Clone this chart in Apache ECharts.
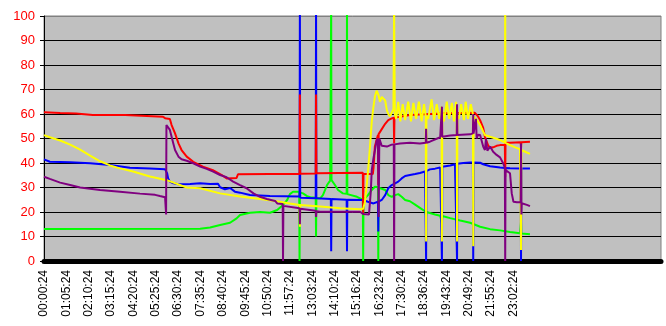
<!DOCTYPE html>
<html>
<head>
<meta charset="utf-8">
<script src="https://cdn.jsdelivr.net/npm/echarts@6/dist/echarts.min.js"></script>
<style>html,body{margin:0;padding:0;background:#fff}#c{width:666px;height:326px}</style>
</head>
<body>
<div id="c"></div>
<script>
// Tick labels (one every 65 samples)
const tickLabels = ['00:00:24','01:05:24','02:10:24','03:15:24','04:20:24','05:25:24','06:30:24','07:35:24','08:40:24','09:45:24','10:50:24','11:57:24','13:03:24','14:10:24','15:16:24','16:23:24','17:30:24','18:36:24','19:43:24','20:49:24','21:55:24','23:02:24'];
const sampleCount = 1794;

// Series values as [sample index, value]
const greenData = [[0,13.1],[454,13.2],[483,13.7],[512,14.7],[541,15.6],[560,17.4],[570,18.8],[599,19.7],[628,20],[657,19.7],[678,20.8],[695,22.9],[707,24.9],[715,27.3],[724,28.3],[742,28.3],[743,0],[744,28],[753,27.6],[765,26.5],[774,26],[790,25.8],[791,10],[792,25.7],[803,25.6],[811,26.9],[823,31],[832,32.8],[834,33],[835,105],[836,33],[846,31],[855,29],[869,27.6],[880,27.4],[881,105],[882,27.3],[910,26.2],[927,25],[928,0],[929,25],[933,24.9],[942,26.9],[953,29],[962,30.3],[971,30.2],[972,0],[973,29.9],[982,29.5],[992,29],[1001,26.9],[1011,26.2],[1021,26.9],[1030,27.3],[1040,26.2],[1050,24.9],[1064,24.4],[1079,23],[1093,21.7],[1108,20.3],[1111,18.5],[1112,20],[1122,19.6],[1137,19],[1152,18.5],[1157,15.5],[1158,18.4],[1181,17.5],[1210,16.5],[1239,15.6],[1268,14],[1297,13],[1326,12.5],[1355,11.8],[1384,11.3],[1387,16],[1388,11.2],[1413,10.9]];

const blueData = [[0,41.5],[17,40.5],[76,40.3],[134,39.9],[192,39.2],[250,38.1],[308,37.8],[352,37.4],[358,35.8],[361,33.7],[366,32.4],[376,31.7],[391,31.3],[425,31.4],[454,31.7],[483,31.4],[506,31.5],[512,30.1],[526,29.3],[541,29.8],[555,28.3],[570,27.9],[599,26.9],[657,26.5],[743,26.3],[744,105],[745,25.8],[790,25.6],[791,105],[792,25.6],[834,25.3],[835,4],[836,25.3],[880,25],[881,4],[882,25],[928,24.9],[942,24.2],[958,23.5],[971,24.2],[972,12],[973,24.2],[982,24.9],[992,26.9],[1001,29.7],[1011,31],[1021,31.7],[1030,32.4],[1040,33.7],[1050,34.7],[1064,35.1],[1079,35.5],[1093,35.9],[1108,36.5],[1110,36.6],[1111,0],[1112,36.7],[1122,37.4],[1137,37.7],[1152,38.2],[1156,38.4],[1157,0],[1158,38.5],[1181,39],[1195,39.5],[1200,39.6],[1201,0],[1202,39.7],[1219,40],[1239,40.2],[1247,40.2],[1248,0],[1249,40.2],[1268,40.1],[1277,39.5],[1297,38.7],[1326,38.2],[1340,38],[1341,37],[1342,38],[1355,37.9],[1386,37.8],[1387,0],[1388,37.8],[1413,37.8]];

const redData = [[0,60.7],[47,60.4],[93,60.2],[142,59.6],[236,59.6],[239,59],[346,58.9],[352,58.3],[366,58],[371,55.5],[381,52.1],[391,48],[400,45.3],[415,42.6],[434,40.5],[462,38.5],[491,37.1],[517,35.1],[531,33.7],[560,33.9],[564,35.4],[657,35.5],[743,35.5],[744,68],[745,35.6],[790,35.7],[791,68],[792,35.8],[927,36],[928,19],[929,35.5],[956,35.5],[958,37.8],[962,46.7],[967,49.4],[971,51.4],[972,31],[973,51.8],[977,52],[992,56],[1001,57.5],[1011,58.2],[1017,58.5],[1018,48],[1019,58.6],[1035,58.9],[1064,59.6],[1166,60.3],[1253,60.5],[1262,59],[1268,57.5],[1277,54.3],[1282,50.7],[1291,47.3],[1297,46.2],[1306,46.4],[1316,47],[1326,47.3],[1340,47.3],[1341,34.4],[1342,48.3],[1355,48.3],[1386,48.5],[1387,46],[1388,48.5],[1413,48.7]];

const yellowData = [[0,51.4],[17,50.5],[47,49.2],[76,47.5],[105,45.5],[134,43],[163,40.7],[192,39],[221,37.8],[259,36.5],[308,34.5],[357,33],[415,30],[454,29.7],[512,27.6],[570,26.3],[628,25.3],[672,24.5],[715,23.5],[743,22.9],[744,14],[745,22.9],[803,22.2],[861,21.5],[919,21.1],[928,21.3],[933,24],[939,32],[943,38],[948,47],[953,57],[958,63],[962,67],[967,69.5],[972,68],[977,65],[982,67],[987,67.5],[992,65.5],[997,61.5],[1001,60],[1006,59],[1011,60.5],[1016,62],[1018,105],[1020,60],[1024,58],[1030,65],[1036,57],[1043,64],[1050,57.5],[1059,65],[1067,57],[1074,64.5],[1082,58],[1090,65],[1098,57],[1105,64],[1110,59],[1111,8],[1112,59],[1117,58],[1127,66],[1134,57.5],[1142,64],[1149,58],[1156,63],[1157,8],[1158,62],[1163,57],[1171,65],[1178,58],[1186,64.5],[1192,57],[1198,65],[1200,60],[1201,8],[1202,59],[1206,58],[1213,64],[1221,57.5],[1226,65],[1233,58],[1241,64],[1247,60],[1248,6],[1249,59],[1259,57.5],[1268,55.5],[1277,52.8],[1282,51.4],[1297,50.7],[1311,50.1],[1326,49.4],[1340,48.3],[1341,105],[1342,48.2],[1355,47.3],[1370,46.4],[1384,45.6],[1386,45.5],[1387,4.5],[1388,45.3],[1399,44.6],[1413,43.7]];

const purpleData = [[0,34.4],[17,33.5],[47,32],[76,31],[105,30],[134,29.5],[163,29],[221,28.3],[279,27.5],[323,27],[337,26.5],[352,26],[354,25.5],[355,19],[356,55.5],[361,55.5],[366,53.5],[371,50.7],[376,48],[381,45.3],[391,42.6],[400,41.5],[415,40.9],[434,39.9],[454,38.5],[473,37.6],[492,36.5],[512,35.1],[531,34.2],[550,32.4],[570,31],[589,29.7],[609,27.6],[628,26.2],[648,25.3],[672,24.5],[678,23.5],[694,23.3],[695,0],[696,22.5],[701,22.2],[743,21.5],[744,15],[745,21.3],[790,20.5],[791,18],[792,20.3],[803,20.1],[919,20.1],[928,19.2],[945,19],[950,28],[953,37],[958,42],[962,45],[967,49],[971,50],[973,18],[975,50],[982,47],[997,46.7],[1011,47.5],[1017,47.6],[1018,0],[1019,47.6],[1035,48],[1064,48.3],[1093,48],[1110,48.3],[1111,54],[1112,48.3],[1122,48.7],[1152,50.5],[1156,50.6],[1157,63],[1158,50.7],[1181,51.2],[1200,51.4],[1201,64],[1202,51.4],[1239,51.7],[1247,52.1],[1248,60],[1249,52],[1253,52],[1256,58],[1258,50],[1262,51.5],[1268,51.4],[1277,46.7],[1282,45.3],[1285,49.8],[1289,45],[1297,46.7],[1306,44.6],[1316,43.3],[1326,42.3],[1335,39.9],[1340,38],[1341,0],[1342,37.1],[1355,35.8],[1360,27.6],[1365,24.2],[1375,24],[1386,24],[1387,48],[1388,19],[1389,23.6],[1393,23.5],[1404,22.9],[1413,22.4]];

const seriesList = [
  {name:'green', color:'#00FF00', data:greenData},
  {name:'blue', color:'#0000FF', data:blueData},
  {name:'red', color:'#FF0000', data:redData},
  {name:'yellow', color:'#FFFF00', data:yellowData},
  {name:'purple', color:'#800080', data:purpleData}
];

const chart = echarts.init(document.getElementById('c'), null, {renderer:'canvas'});
const splitColors = ['#000','#000','#000','#000','#000','#000','#000','#000','#000','#000','#808080'];
chart.setOption({
  animation: false,
  backgroundColor: '#FFFFFF',
  grid: {left:44, right:5, top:16, bottom:65, show:true, backgroundColor:'#C0C0C0', borderColor:'#808080', borderWidth:1},
  xAxis: {
    type:'value', min:0, max:sampleCount, interval:65, offset:3,
    axisLine:{show:true, lineStyle:{color:'#000', width:5}},
    axisTick:{show:false},
    splitLine:{show:false},
    axisLabel:{rotate:90, margin:6, color:'#000', fontFamily:'Liberation Sans, Arial', fontSize:12,
      showMaxLabel:false,
      formatter:function(v){ const i = Math.round(v/65); return tickLabels[i] || ''; }}
  },
  yAxis: {
    type:'value', min:0, max:100, interval:10,
    axisLine:{show:true, lineStyle:{color:'#000', width:1}},
    axisTick:{show:true, length:4, lineStyle:{color:'#000'}},
    splitLine:{show:true, lineStyle:{color:splitColors, width:1}},
    axisLabel:{color:'#FF0000', fontFamily:'Liberation Sans, Arial', fontSize:13, margin:9}
  },
  series: seriesList.map(s => ({
    name:s.name, type:'line', data:s.data, showSymbol:false, symbol:'none',
    clip:true, color:s.color, lineStyle:{color:s.color, width:2}
  }))
});
</script>
</body>
</html>
